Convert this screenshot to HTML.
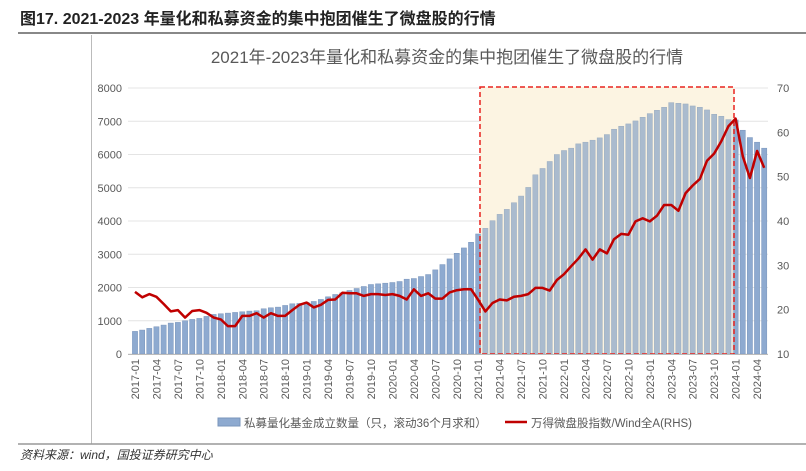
<!DOCTYPE html>
<html><head><meta charset="utf-8"><style>
body{margin:0;background:#fff;width:806px;height:466px;overflow:hidden;font-family:"Liberation Sans","Noto Sans CJK SC",sans-serif;}
</style></head><body>
<svg width="806" height="466" xmlns="http://www.w3.org/2000/svg">
<text x="20" y="24" font-size="16" font-weight="bold" fill="#222" font-family="Liberation Sans,Noto Sans CJK SC,sans-serif">图17. 2021-2023 年量化和私募资金的集中抱团催生了微盘股的行情</text>
<line x1="18" y1="33" x2="806" y2="33" stroke="#888" stroke-width="2"/>
<line x1="91.5" y1="35" x2="91.5" y2="444" stroke="#bbb" stroke-width="1"/>
<line x1="18" y1="444" x2="806" y2="444" stroke="#999" stroke-width="1.5"/>
<text x="447" y="63" font-size="17" fill="#595959" text-anchor="middle" font-family="Liberation Sans,Noto Sans CJK SC,sans-serif">2021年-2023年量化和私募资金的集中抱团催生了微盘股的行情</text>
<g id="grid"></g>
<rect x="480" y="87" width="254" height="267" fill="#fff9ec"/>
<g id="bars"></g>
<rect x="480" y="87" width="254" height="267" fill="rgba(245,232,200,0.28)" stroke="#e8231f" stroke-width="1.5" stroke-dasharray="5,3"/>
<g id="line"></g>
<g id="axes"></g>
<g>
<rect x="218" y="418" width="22" height="8" fill="#8eaad0" stroke="#7a95bb"/>
<text x="244" y="427" font-size="11.5" fill="#595959" font-family="Liberation Sans,Noto Sans CJK SC,sans-serif">私募量化基金成立数量（只，滚动36个月求和）</text>
<line x1="505" y1="422" x2="527" y2="422" stroke="#c00000" stroke-width="2.5"/>
<text x="531" y="427" font-size="11.5" fill="#595959" font-family="Liberation Sans,Noto Sans CJK SC,sans-serif">万得微盘股指数/Wind全A(RHS)</text>
</g>
<text x="20" y="459" font-size="12" font-style="italic" fill="#333" font-family="Liberation Sans,Noto Sans CJK SC,sans-serif">资料来源：wind，国投证券研究中心</text>
</svg>
<script>
const barValues=[680,720,770,820,870,930,950,1000,1040,1070,1130,1190,
1210,1230,1250,1270,1290,1300,1360,1390,1410,1460,1510,1520,
1550,1580,1640,1720,1790,1840,1910,1970,2030,2090,2110,2130,
2150,2180,2250,2270,2330,2390,2530,2690,2860,3030,3190,3360,
3610,3780,4010,4200,4350,4550,4750,5010,5390,5580,5790,6000,
6120,6190,6320,6370,6430,6500,6600,6760,6850,6920,7010,7120,
7230,7330,7420,7560,7540,7520,7460,7420,7340,7210,7150,7050,
7040,6730,6510,6370,6190];
const lineValues=[24.0,22.8,23.5,22.9,21.3,19.6,19.9,18.2,19.7,19.9,19.3,18.2,
17.8,16.3,16.3,18.6,18.6,19.2,18.2,19.2,18.6,18.6,19.9,21.1,
21.6,20.5,21.1,22.2,22.3,23.8,23.7,23.7,23.1,23.5,23.5,23.3,
23.5,23.1,22.3,24.6,23.1,23.7,22.5,22.5,23.9,24.4,24.6,24.6,
22.2,19.6,21.5,22.3,22.1,22.9,23.1,23.5,24.9,24.9,24.3,26.7,
28.0,29.8,31.5,33.6,31.3,33.6,32.7,35.9,37.1,36.9,39.9,40.6,
39.9,41.2,43.6,43.6,42.3,46.3,48.0,49.5,53.6,55.2,58.0,61.4,
63.1,54.6,49.7,55.8,52.0];
const leftTicks=[0,1000,2000,3000,4000,5000,6000,7000,8000];
const rightTicks=[10,20,30,40,50,60,70];
const startYear=2017;
const NS='http://www.w3.org/2000/svg';
const x0=135,step=7.15,yB=354,yT=88;
const xs=i=>x0+i*step;
const yL=v=>yB-(v/8000)*(yB-yT);
const yR=v=>yB-((v-10)/60)*(yB-yT);
function mk(tag,attrs,parent,txt){const e=document.createElementNS(NS,tag);for(const k in attrs)e.setAttribute(k,attrs[k]);if(txt!==undefined)e.textContent=txt;document.getElementById(parent).appendChild(e);return e;}
leftTicks.forEach(t=>{
 const g=mk('line',{x1:128,x2:768,y1:yL(t),y2:yL(t),stroke:'#e4e4e4','stroke-width':1},'grid');
 
 
 const l=mk('text',{x:122,y:yL(t)+4,'font-size':11,fill:'#595959','text-anchor':'end'},'axes',String(t));
 
 
});
rightTicks.forEach(t=>{
 const l=mk('text',{x:777,y:yR(t)+4,'font-size':11,fill:'#595959'},'axes',String(t));
 
 
});
barValues.forEach((v,i)=>{
 const r=mk('rect',{x:xs(i)-2.6,y:yL(v),width:5.2,height:yB-yL(v),fill:'#8eaad0',stroke:'#7a95bb','stroke-width':0.5},'bars');
 
 
});
const ax=mk('line',{x1:128,x2:768,y1:yB+0.5,y2:yB+0.5,stroke:'#bbb'},'axes');


barValues.forEach((v,i)=>{
 if(i%3!==0)return;
 const yr=startYear+Math.floor(i/12),m=(i%12)+1;
 const lab=yr+'-'+(m<10?'0':'')+m;
 const x=xs(i)+4;
 const t=mk('text',{x:x,y:359,'font-size':11,fill:'#595959','text-anchor':'end',transform:'rotate(-90 '+x+' 359)'},'axes',lab);
 
 
});
const pts=lineValues.map((v,i)=>xs(i).toFixed(1)+','+yR(v).toFixed(1)).join(' ');
const pl=mk('polyline',{points:pts,fill:'none',stroke:'#c00000','stroke-width':2.5,'stroke-linejoin':'round'},'line');


</script>
</body></html>
